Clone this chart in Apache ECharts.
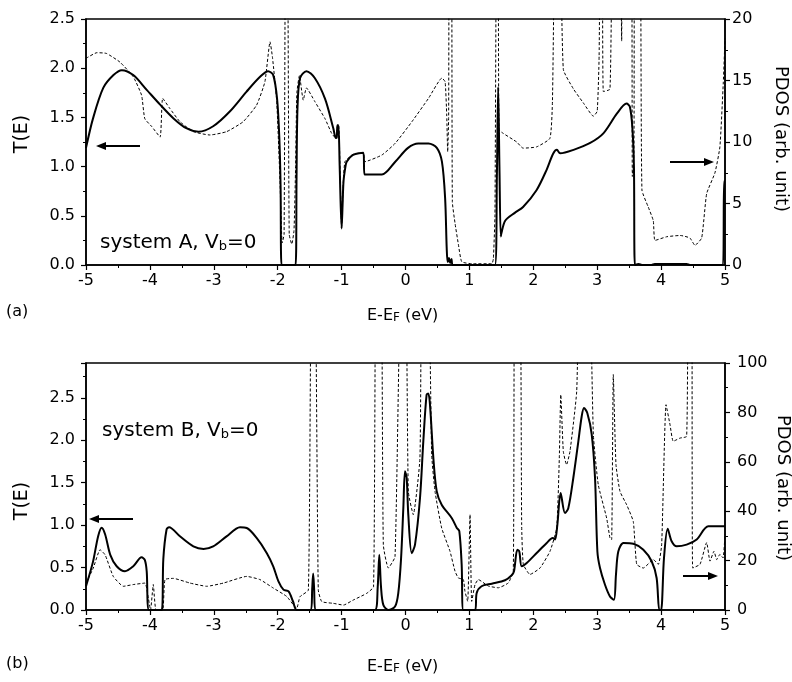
<!DOCTYPE html>
<html>
<head>
<meta charset="utf-8">
<script src="https://cdn.jsdelivr.net/npm/echarts@6/dist/echarts.min.js"></script>
<style>
  html, body { margin: 0; padding: 0; background: #fff; }
  #chart { width: 792px; height: 682px; }
</style>
</head>
<body>
<div id="chart"></div>
<script>
// panel (a): transmission T(E) (left axis) and PDOS (right axis), [E - EF, value]
const transA = [
  [-5.00, 1.19], [-4.89, 1.49], [-4.73, 1.80], [-4.57, 1.93], [-4.44, 1.98], [-4.26, 1.93],
  [-4.05, 1.78], [-3.84, 1.63], [-3.63, 1.49], [-3.43, 1.39], [-3.24, 1.355], [-3.01, 1.41],
  [-2.75, 1.56], [-2.49, 1.76], [-2.28, 1.91], [-2.15, 1.97], [-2.07, 1.93], [-2.01, 1.69],
  [-1.975, 1.3], [-1.955, 0.8], [-1.94, 0], [-1.72, 0], [-1.705, 0.9], [-1.69, 1.6],
  [-1.65, 1.9], [-1.55, 1.97], [-1.42, 1.90], [-1.26, 1.69], [-1.13, 1.39], [-1.09, 1.29],
  [-1.075, 1.3], [-1.065, 1.42], [-1.05, 1.42], [-1.03, 1.0], [-1.0, 0.37], [-0.985, 0.6],
  [-0.97, 0.85], [-0.94, 1.0], [-0.92, 1.05], [-0.82, 1.12], [-0.66, 1.14], [-0.64, 0.92],
  [-0.37, 0.92], [-0.16, 1.05], [0.04, 1.19], [0.2, 1.235], [0.36, 1.235], [0.49, 1.19],
  [0.57, 1.05], [0.62, 0.68], [0.645, 0.17], [0.66, 0.03], [0.68, 0.07], [0.70, 0.02],
  [0.72, 0.06], [0.74, 0], [1.40, 0], [1.43, 0.9], [1.45, 1.81], [1.47, 1.0], [1.49, 0.29],
  [1.50, 0.32], [1.56, 0.45], [1.71, 0.53], [1.84, 0.59], [2.05, 0.76], [2.21, 0.97],
  [2.31, 1.13], [2.37, 1.17], [2.42, 1.135], [2.63, 1.17], [2.89, 1.24], [3.10, 1.34],
  [3.31, 1.54], [3.46, 1.64], [3.51, 1.61], [3.55, 1.40], [3.575, 1.0], [3.59, 0],
  [3.65, 0.01], [3.7, 0], [3.85, 0], [3.9, 0.01], [4.4, 0.01], [4.45, 0], [4.97, 0],
  [4.985, 0.85], [5.0, 0.85]
];
const pdosA = [
  [-5.00, 16.8], [-4.83, 17.26], [-4.68, 17.2], [-4.47, 16.5], [-4.26, 15.3], [-4.13, 13.8],
  [-4.08, 11.9], [-3.97, 11.25], [-3.84, 10.4], [-3.80, 13.55], [-3.69, 12.74], [-3.53, 11.65],
  [-3.32, 10.84], [-3.06, 10.57], [-2.80, 10.84], [-2.54, 11.65], [-2.33, 13.0], [-2.20, 14.9],
  [-2.12, 18.15], [-2.08, 16.8], [-2.015, 13.3], [-1.964, 6.8], [-1.93, 1.8], [-1.90, 2.5],
  [-1.875, 30], [-1.85, 30], [-1.82, 2.5], [-1.78, 1.7], [-1.745, 2.8], [-1.72, 8],
  [-1.70, 14], [-1.66, 15.4], [-1.60, 13.4], [-1.55, 14.4], [-1.42, 13.3], [-1.26, 11.9],
  [-1.155, 10.7], [-1.09, 10.3], [-1.06, 11.4], [-1.045, 11.4], [-1.0, 3.1], [-0.975, 6.5],
  [-0.947, 8.4], [-0.82, 9.0], [-0.66, 9.13], [-0.635, 8.4], [-0.37, 8.94], [-0.16, 9.9],
  [0.10, 11.65], [0.36, 13.55], [0.57, 15.2], [0.62, 14.9], [0.645, 12.2], [0.66, 9.2],
  [0.675, 12], [0.686, 30], [0.72, 30], [0.733, 5.15], [0.775, 3.4], [0.83, 1.6],
  [0.88, 0.27], [1.04, 0.1], [1.35, 0.1], [1.375, 0.5], [1.40, 4.1], [1.427, 30], [1.45, 30],
  [1.463, 11.0], [1.53, 10.7], [1.74, 10.0], [1.84, 9.5], [2.05, 9.6], [2.26, 10.3],
  [2.30, 13.4], [2.35, 30], [2.41, 30], [2.47, 15.9], [2.63, 14.3], [2.78, 13.2], [2.94, 12.1],
  [3.0, 12.5], [3.03, 17], [3.054, 30], [3.08, 30], [3.096, 14.1], [3.2, 14.3], [3.252, 30],
  [3.35, 30], [3.383, 18.2], [3.40, 30], [3.53, 30], [3.55, 7.2], [3.575, 9], [3.59, 30],
  [3.67, 30], [3.70, 6.1], [3.80, 4.7], [3.878, 3.6], [3.905, 2.0], [4.09, 2.3], [4.30, 2.4],
  [4.45, 2.2], [4.53, 1.6], [4.635, 2.2], [4.713, 5.8], [4.843, 7.5], [4.92, 9.6],
  [4.973, 14.8], [5.0, 18.4]
];

// panel (b)
const transB = [
  [-5.0, 0.28], [-4.89, 0.57], [-4.81, 0.87], [-4.755, 0.97], [-4.70, 0.89], [-4.62, 0.65],
  [-4.52, 0.515], [-4.39, 0.456], [-4.26, 0.515], [-4.13, 0.62], [-4.08, 0.59], [-4.05, 0.456],
  [-4.014, 0], [-3.816, 0], [-3.79, 0.6], [-3.74, 0.946], [-3.70, 0.975], [-3.53, 0.868],
  [-3.32, 0.75], [-3.16, 0.72], [-3.01, 0.75], [-2.80, 0.868], [-2.59, 0.974], [-2.485, 0.966],
  [-2.33, 0.85], [-2.17, 0.67], [-2.07, 0.515], [-1.99, 0.34], [-1.91, 0.24], [-1.83, 0.22],
  [-1.76, 0.10], [-1.70, 0], [-1.48, 0], [-1.46, 0.25], [-1.445, 0.43], [-1.43, 0.25],
  [-1.41, 0], [-0.477, 0], [-0.435, 0.27], [-0.41, 0.65], [-0.383, 0.27], [-0.347, 0.06],
  [-0.27, 0], [-0.164, 0.04], [-0.113, 0.2], [-0.07, 0.6], [-0.034, 1.2], [-0.008, 1.634],
  [0.018, 1.56], [0.044, 1.12], [0.097, 0.67], [0.149, 0.77], [0.227, 1.32], [0.279, 1.99],
  [0.33, 2.536], [0.357, 2.55], [0.383, 2.42], [0.436, 1.79], [0.488, 1.40], [0.566, 1.24],
  [0.723, 1.084], [0.801, 0.97], [0.842, 0.93], [0.879, 0.534], [0.905, 0], [1.088, 0],
  [1.114, 0.2], [1.19, 0.28], [1.35, 0.31], [1.557, 0.35], [1.662, 0.41], [1.698, 0.456],
  [1.75, 0.71], [1.781, 0.69], [1.818, 0.515], [1.897, 0.554], [2.053, 0.671], [2.21, 0.789],
  [2.303, 0.848], [2.34, 0.83], [2.376, 1.0], [2.428, 1.378], [2.496, 1.142], [2.548, 1.2],
  [2.626, 1.555], [2.705, 1.987], [2.757, 2.28], [2.793, 2.38], [2.845, 2.32], [2.914, 2.07],
  [2.966, 1.555], [3.003, 0.69], [3.044, 0.495], [3.122, 0.298], [3.2, 0.16], [3.262, 0.12],
  [3.294, 0.42], [3.33, 0.69], [3.41, 0.789], [3.565, 0.78], [3.722, 0.71], [3.852, 0.574],
  [3.93, 0.377], [3.972, 0], [4.0, 0], [4.045, 0.61], [4.103, 0.958], [4.165, 0.81],
  [4.244, 0.75], [4.40, 0.77], [4.557, 0.83], [4.739, 0.986], [5.0, 0.986]
];
const pdosB = [
  [-5.0, 10.9], [-4.886, 17.0], [-4.78, 24.4], [-4.70, 22.3], [-4.573, 13.6], [-4.416, 9.6],
  [-4.26, 10.3], [-4.077, 10.9], [-4.025, 4.9], [-3.99, 0], [-3.947, 10.3], [-3.904, 0],
  [-3.80, 0], [-3.764, 12.3], [-3.634, 12.8], [-3.372, 10.9], [-3.11, 9.6], [-2.85, 10.9],
  [-2.485, 13.6], [-2.277, 12.3], [-2.07, 8.9], [-1.86, 5.5], [-1.703, 0.7], [-1.651, 5.4],
  [-1.52, 8.1], [-1.47, 150], [-1.42, 150], [-1.365, 8.1], [-1.31, 3.4], [-1.13, 2.7],
  [-0.97, 2.0], [-0.82, 4.0], [-0.61, 6.7], [-0.50, 9.4], [-0.46, 150], [-0.383, 150],
  [-0.347, 26.4], [-0.269, 17.0], [-0.164, 21.6], [-0.06, 150], [0.0, 150], [0.044, 48],
  [0.122, 38.6], [0.226, 61.5], [0.26, 150], [0.348, 150], [0.41, 62.9], [0.462, 48],
  [0.566, 33.2], [0.696, 23.8], [0.775, 15.7], [0.826, 13.0], [0.905, 12.3], [0.93, 7.6],
  [0.973, 3.5], [1.01, 38.6], [1.036, 3.5], [1.088, 10.3], [1.14, 12.3], [1.297, 9.7],
  [1.453, 9.0], [1.61, 11.0], [1.687, 16], [1.71, 150], [1.79, 150], [1.818, 34.5],
  [1.844, 18.5], [1.948, 14.4], [2.105, 17.0], [2.262, 23.8], [2.366, 33.2], [2.407, 61.5],
  [2.43, 87.2], [2.47, 64.2], [2.52, 58.8], [2.574, 64.2], [2.679, 88.5], [2.74, 150],
  [2.86, 150], [2.94, 71], [3.017, 50.7], [3.148, 37.2], [3.2, 29.1], [3.226, 28.5],
  [3.252, 95.3], [3.294, 58.8], [3.357, 48], [3.461, 42.6], [3.565, 35.8], [3.618, 18.5],
  [3.722, 17.0], [3.878, 20.4], [3.957, 18.5], [4.009, 26.6], [4.077, 83.1], [4.14, 75],
  [4.19, 68.3], [4.296, 69.6], [4.40, 70.3], [4.43, 150], [4.48, 150], [4.494, 17.0],
  [4.609, 18.5], [4.713, 27.3], [4.765, 19.8], [4.828, 23.8], [4.87, 20.4], [4.92, 22.5],
  [4.97, 21.1], [5.0, 30.6]
];

const FONT = 'DejaVu Sans';
const BLACK = '#000';

const chart = echarts.init(document.getElementById('chart'));

function xAxisFor(gridIndex) {
  return {
    type: 'value', gridIndex: gridIndex, min: -5, max: 5, interval: 1,
    axisLine: { onZero: false, lineStyle: { color: BLACK, width: 1.5 } },
    axisTick: { length: 5, lineStyle: { color: BLACK, width: 1.2 } },
    minorTick: { show: true, splitNumber: 2, length: 3, lineStyle: { color: BLACK, width: 1 } },
    splitLine: { show: false },
    axisLabel: { color: BLACK, fontFamily: FONT, fontSize: 16, margin: 8 }
  };
}

function yAxisFor(gridIndex, side, max, interval, fmt, margin) {
  return {
    type: 'value', gridIndex: gridIndex, position: side, min: 0, max: max, interval: interval,
    axisLine: { show: true, onZero: false, lineStyle: { color: BLACK, width: 1.5 } },
    axisTick: { show: true, length: 5, lineStyle: { color: BLACK, width: 1.2 } },
    minorTick: { show: true, splitNumber: 2, length: 3, lineStyle: { color: BLACK, width: 1 } },
    splitLine: { show: false },
    axisLabel: {
      color: BLACK, fontFamily: FONT, fontSize: 16, margin: margin,
      formatter: function (v) {
        if (Math.abs(v / interval - Math.round(v / interval)) > 1e-6) return '';
        return fmt(v);
      }
    }
  };
}

const oneDec = v => v.toFixed(1);
const integer = v => String(Math.round(v));

function lineSeries(data, xi, yi, dashed) {
  return {
    type: 'line', data: data, xAxisIndex: xi, yAxisIndex: yi,
    symbol: 'none', clip: true, silent: true,
    smooth: dashed ? 0.15 : 0.3,
    lineStyle: dashed
      ? { color: BLACK, width: 1, type: [3, 2] }
      : { color: BLACK, width: 2 }
  };
}

function arrow(x1, x2, y) {
  const dir = x2 > x1 ? 1 : -1;
  return [
    { type: 'line', shape: { x1: x1, y1: y, x2: x2 - dir * 5, y2: y },
      style: { stroke: BLACK, lineWidth: 2 } },
    { type: 'polygon', shape: { points: [[x2, y], [x2 - dir * 10, y - 4], [x2 - dir * 10, y + 4]] },
      style: { fill: BLACK } }
  ];
}

function subText(x, y, main, sub, tail, size, subSize) {
  return {
    type: 'text', x: x, y: y,
    style: {
      text: '{m|' + main + '}{s|' + sub + '}{m|' + tail + '}',
      verticalAlign: 'middle',
      rich: {
        m: { fontFamily: FONT, fontSize: size, fill: BLACK, lineHeight: size + 6, verticalAlign: 'bottom' },
        s: { fontFamily: FONT, fontSize: subSize, fill: BLACK, lineHeight: size + 4, verticalAlign: 'bottom' }
      }
    }
  };
}

function plainText(x, y, text, size, rotation, align) {
  return {
    type: 'text', x: x, y: y, rotation: rotation || 0,
    style: {
      text: text, fontFamily: FONT, fontSize: size, fill: BLACK,
      align: align || 'center', verticalAlign: 'middle'
    }
  };
}

const option = {
  animation: false,
  backgroundColor: '#fff',
  grid: [
    { left: 86, right: 67, top: 19, height: 246, show: true, borderColor: BLACK, borderWidth: 1.5 },
    { left: 86, right: 67, top: 363, height: 247, show: true, borderColor: BLACK, borderWidth: 1.5 }
  ],
  xAxis: [xAxisFor(0), xAxisFor(1)],
  yAxis: [
    yAxisFor(0, 'left', 2.5, 0.5, oneDec, 11),
    yAxisFor(0, 'right', 20, 5, integer, 7),
    yAxisFor(1, 'left', 2.91, 0.5, oneDec, 11),
    yAxisFor(1, 'right', 100, 20, integer, 12)
  ],
  series: [
    lineSeries(pdosA, 0, 1, true),
    lineSeries(transA, 0, 0, false),
    lineSeries(pdosB, 1, 3, true),
    lineSeries(transB, 1, 2, false)
  ],
  graphic: [
    subText(100, 240, 'system A, V', 'b', '=0', 20, 13),
    subText(102, 428, 'system B, V', 'b', '=0', 20, 13),
    subText(367, 313, 'E-E', 'F', ' (eV)', 16, 12),
    subText(367, 664, 'E-E', 'F', ' (eV)', 16, 12),
    plainText(6, 312, '(a)', 16, 0, 'left'),
    plainText(6, 664, '(b)', 16, 0, 'left'),
    plainText(22, 134, 'T(E)', 19, Math.PI / 2),
    plainText(22, 501, 'T(E)', 19, Math.PI / 2),
    plainText(781, 139, 'PDOS (arb. unit)', 18, -Math.PI / 2),
    plainText(783, 488, 'PDOS (arb. unit)', 18, -Math.PI / 2)
  ].concat(
    arrow(140, 96, 146),
    arrow(670, 714, 162),
    arrow(133, 89, 519),
    arrow(683, 718, 576)
  )
};

chart.setOption(option);
</script>
</body>
</html>
